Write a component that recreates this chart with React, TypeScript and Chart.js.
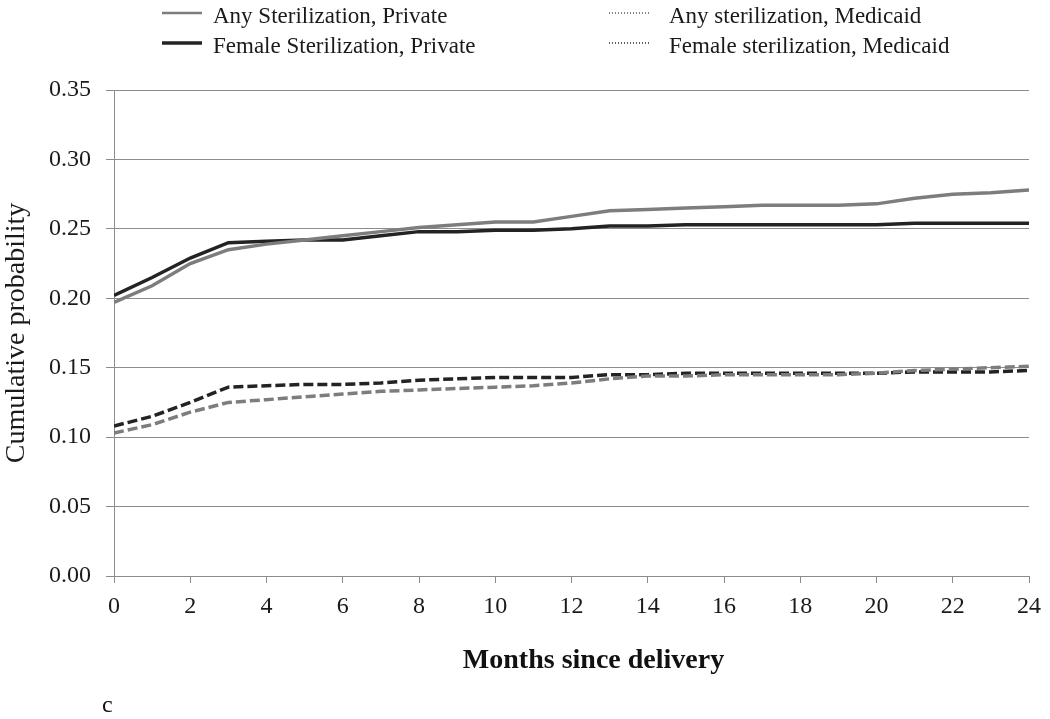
import React, { useEffect, useRef } from "react";
import { Chart, registerables } from "chart.js";

Chart.register(...registerables);

const months = [0, 1, 2, 3, 4, 5, 6, 7, 8, 9, 10, 11, 12, 13, 14, 15, 16, 17, 18, 19, 20, 21, 22, 23, 24];
const anyPrivate = [0.197, 0.209, 0.225, 0.235, 0.239, 0.242, 0.245, 0.248, 0.251, 0.253, 0.255, 0.255, 0.259, 0.263, 0.264, 0.265, 0.266, 0.267, 0.267, 0.267, 0.268, 0.272, 0.275, 0.276, 0.278];
const femalePrivate = [0.202, 0.215, 0.229, 0.240, 0.241, 0.242, 0.242, 0.245, 0.248, 0.248, 0.249, 0.249, 0.250, 0.252, 0.252, 0.253, 0.253, 0.253, 0.253, 0.253, 0.253, 0.254, 0.254, 0.254, 0.254];
const anyMedicaid = [0.103, 0.109, 0.118, 0.125, 0.127, 0.129, 0.131, 0.133, 0.134, 0.135, 0.136, 0.137, 0.139, 0.142, 0.144, 0.144, 0.145, 0.145, 0.145, 0.145, 0.146, 0.148, 0.149, 0.150, 0.151];
const femaleMedicaid = [0.108, 0.115, 0.125, 0.136, 0.137, 0.138, 0.138, 0.139, 0.141, 0.142, 0.143, 0.143, 0.143, 0.145, 0.145, 0.146, 0.146, 0.146, 0.146, 0.146, 0.146, 0.147, 0.147, 0.147, 0.148];

const seriesLabels = [
  "Any Sterilization, Private",
  "Female Sterilization, Private",
  "Any sterilization, Medicaid",
  "Female sterilization, Medicaid",
];
const xTitle = "Months since delivery";
const yTitle = "Cumulative probability";
const panelLetter = "c";

const SERIF = "'Liberation Serif', 'Times New Roman', serif";
const GRAY = "rgb(125,125,125)";
const DARK = "rgb(35,35,35)";
const GRID = "rgb(140,140,140)";

const toPoints = (vals: number[]) => months.map((m, i) => ({ x: m, y: vals[i] }));

const overlayPlugin = {
  id: "overlay",
  afterDraw(chart: any) {
    const ctx = chart.ctx;
    const area = chart.chartArea;
    ctx.save();
    ctx.font = `23px ${SERIF}`;
    ctx.fillStyle = "#1a1a1a";
    ctx.textBaseline = "alphabetic";
    ctx.textAlign = "left";
    const items = [
      { x: 162, y: 13, text: seriesLabels[0], color: GRAY, w: 2.5, dash: [] as number[] },
      { x: 162, y: 43, text: seriesLabels[1], color: DARK, w: 3.5, dash: [] as number[] },
      { x: 609, y: 13, text: seriesLabels[2], color: "rgb(90,90,90)", w: 1.5, dash: [1, 2] },
      { x: 609, y: 43, text: seriesLabels[3], color: "rgb(40,40,40)", w: 1.5, dash: [1, 2] },
    ];
    items.forEach((it, i) => {
      ctx.beginPath();
      ctx.strokeStyle = it.color;
      ctx.lineWidth = it.w;
      ctx.setLineDash(it.dash);
      ctx.moveTo(it.x, it.y);
      ctx.lineTo(it.x + 40, it.y);
      ctx.stroke();
      ctx.setLineDash([]);
      ctx.fillText(it.text, i < 2 ? 213 : 669, it.y + 10);
    });
    ctx.font = `bold 28px ${SERIF}`;
    ctx.fillStyle = "#111";
    ctx.textAlign = "center";
    ctx.fillText(xTitle, (area.left + area.right) / 2 + 22, 668);
    ctx.font = `24px ${SERIF}`;
    ctx.textAlign = "left";
    ctx.fillText(panelLetter, 102, 712);
    ctx.restore();
  },
};

export default function App() {
  const ref = useRef<HTMLCanvasElement>(null);
  useEffect(() => {
    document.body.style.margin = "0";
    const canvas = ref.current!;
    const chart = new Chart(canvas, {
      type: "line",
      data: {
        datasets: [
          { label: seriesLabels[0], data: toPoints(anyPrivate), borderColor: GRAY, borderWidth: 3.5, pointRadius: 0, tension: 0 },
          { label: seriesLabels[1], data: toPoints(femalePrivate), borderColor: DARK, borderWidth: 3.5, pointRadius: 0, tension: 0 },
          { label: seriesLabels[2], data: toPoints(anyMedicaid), borderColor: GRAY, borderWidth: 3.5, borderDash: [10, 4], pointRadius: 0, tension: 0 },
          { label: seriesLabels[3], data: toPoints(femaleMedicaid), borderColor: DARK, borderWidth: 3.5, borderDash: [10, 4], pointRadius: 0, tension: 0 },
        ],
      },
      options: {
        responsive: false,
        animation: false,
        layout: { padding: { top: 90, right: 21, left: 0, bottom: 0 } },
        plugins: { legend: { display: false }, tooltip: { enabled: false } },
        scales: {
          x: {
            type: "linear",
            min: 0,
            max: 24,
            ticks: { stepSize: 2, color: "#1a1a1a", font: { family: SERIF, size: 24 }, padding: 9, maxRotation: 0 },
            grid: { drawOnChartArea: false, drawTicks: true, tickLength: 7, color: GRID },
            border: { color: GRID, width: 1 },
            afterFit: (s: any) => { s.height = 143; },
          },
          y: {
            min: 0,
            max: 0.35,
            ticks: { stepSize: 0.05, color: "#1a1a1a", font: { family: SERIF, size: 24 }, padding: 15, callback: (v: any) => Number(v).toFixed(2) },
            grid: { color: GRID, tickLength: 8, lineWidth: 1 },
            border: { color: GRID, width: 1 },
            title: { display: true, text: yTitle, color: "#1a1a1a", font: { family: SERIF, size: 28 }, padding: 0 },
            afterFit: (s: any) => { s.width = 114; },
          },
        },
      },
      plugins: [overlayPlugin],
    });
    return () => chart.destroy();
  }, []);
  return (
    <div style={{ position: "relative", width: 1050, height: 719 }}>
      <canvas ref={ref} width={1050} height={719} style={{ display: "block" }} />
    </div>
  );
}
